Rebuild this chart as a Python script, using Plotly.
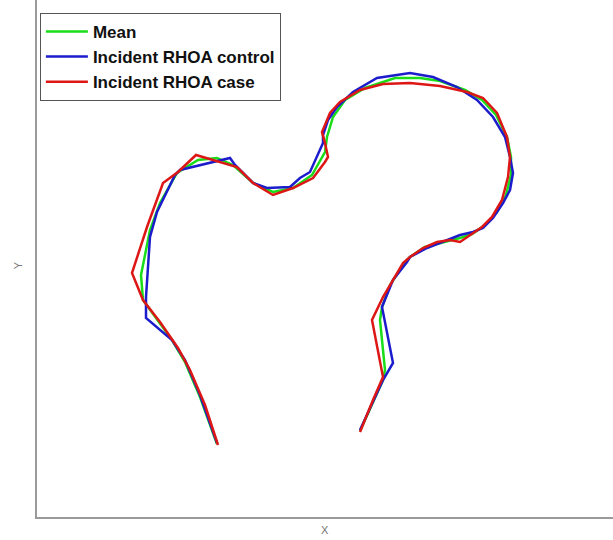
import plotly.graph_objects as go

# Outline coordinates (arbitrary X/Y units)
mean_x = [180,163,148,135,106,104,113,123,140,161,180,196,216,236,256,263,275,288,290,296,308,328,358,383,403,428,445,459,470,474,474,469,460,448,435,423,403,388,373,368,353,345,343,348,346,323]
mean_y = [73,120,155,177,217,242,287,314,344,357,359,352,334,325,329,334,342,365,380,400,417,429,439,439,436,427,417,402,380,360,342,322,305,292,283,279,274,270,260,255,232,210,197,147,137,86]

control_x = [180,163,148,135,109,109,113,120,138,143,193,198,216,230,253,263,273,286,286,291,300,316,340,373,396,420,440,456,468,473,476,473,466,456,446,436,423,410,390,373,370,356,345,356,346,323]
control_y = [74,122,157,177,199,220,280,305,342,347,359,352,334,329,330,339,345,374,382,397,410,425,439,444,440,430,417,400,380,360,344,327,314,299,289,285,282,277,269,260,255,237,210,154,137,87]

case_x = [181,168,153,141,123,106,95,110,126,141,159,183,200,216,236,256,276,288,291,288,285,293,303,323,346,373,403,430,446,460,470,473,471,465,455,445,436,423,413,400,386,373,366,346,335,346,336,323]
case_y = [72,112,147,169,195,217,244,290,334,345,362,355,350,334,322,329,339,355,360,374,385,404,415,427,433,434,431,425,419,404,380,360,340,317,300,290,284,275,277,275,269,260,254,220,197,140,117,85]

series_names = ["Mean", "Incident RHOA control", "Incident RHOA case"]
series_colors = ["#18dd18", "#1c1ccc", "#dd1616"]

fig = go.Figure()
for name, xs, ys, col in zip(series_names,
                             [mean_x, control_x, case_x],
                             [mean_y, control_y, case_y],
                             series_colors):
    fig.add_trace(go.Scatter(x=xs, y=ys, mode="lines", name="<b>" + name + "</b>",
                             line=dict(color=col, width=2.5)))

axis_common = dict(showgrid=False, zeroline=False, showticklabels=False,
                   ticks="", showline=True, linecolor="#9a9a9a", linewidth=2)

fig.update_layout(
    width=613, height=540,
    margin=dict(l=37, r=0, t=0, b=23),
    paper_bgcolor="white", plot_bgcolor="white",
    xaxis=dict(range=[0, 576], **axis_common),
    yaxis=dict(range=[0, 517], **axis_common),
    showlegend=True,
    legend=dict(x=0.005, y=0.975, xanchor="left", yanchor="top",
                bgcolor="white", bordercolor="#555555", borderwidth=1,
                font=dict(family="Arial, Liberation Sans", size=17, color="#111111"),
                tracegroupgap=0, itemwidth=42),
    annotations=[
        dict(text="X", xref="paper", yref="paper", x=0.5, y=-0.025,
             xanchor="center", yanchor="middle", showarrow=False,
             font=dict(family="Arial, Liberation Sans", size=11, color="#777777")),
        dict(text="Y", xref="paper", yref="paper", x=-0.033, y=0.487,
             xanchor="center", yanchor="middle", showarrow=False, textangle=-90,
             font=dict(family="Arial, Liberation Sans", size=11, color="#777777")),
    ],
)

fig.write_html("out.html")
